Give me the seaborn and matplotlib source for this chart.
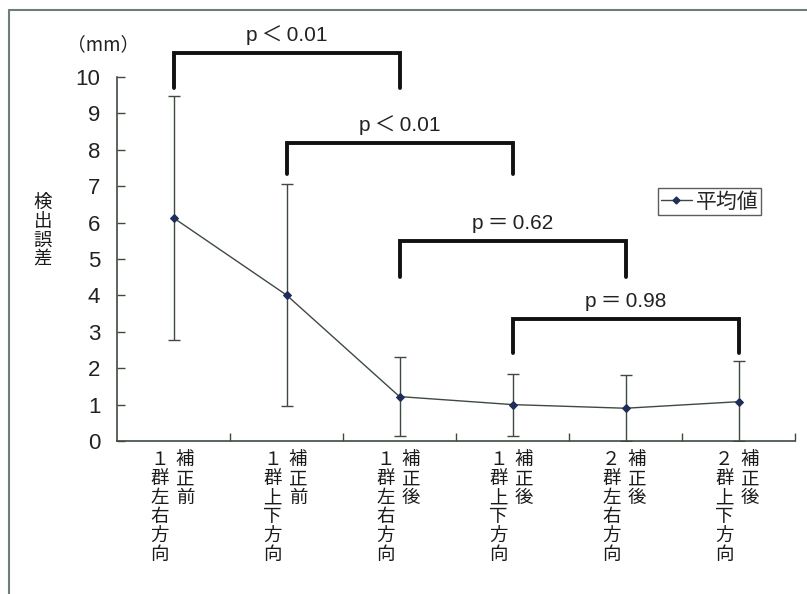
import matplotlib
matplotlib.use("Agg")
import matplotlib.pyplot as plt
import matplotlib.transforms as mtransforms
from matplotlib.lines import Line2D
import seaborn as sns
import pandas as pd
import numpy as np

# ---- data ----
groups = ["１群左右方向", "１群上下方向", "１群左右方向", "１群上下方向", "２群左右方向", "２群上下方向"]
phases = ["補正前", "補正前", "補正後", "補正後", "補正後", "補正後"]
means = [6.13, 4.01, 1.22, 1.0, 0.9, 1.08]
sds = [3.35, 3.05, 1.08, 0.85, 0.9, 1.12]
yticks = [0, 1, 2, 3, 4, 5, 6, 7, 8, 9, 10]
pairs = [(0, 2), (1, 3), (2, 4), (3, 5)]
p_labels = ["p\u2009＜\u20090.01", "p\u2009＜\u20090.01", "p\u2009＝\u20090.62", "p\u2009＝\u20090.98"]
bracket_tops = [10.66, 8.19, 5.49, 3.35]
bracket_feet = [9.7, 7.33, 4.5, 2.43]
legend_label = "平均値"

sns.set_theme(style="white")
plt.rcParams["font.family"] = ["Noto Sans CJK JP", "DejaVu Sans"]
LAT = ["Liberation Sans", "Noto Sans CJK JP", "DejaVu Sans"]

fig = plt.figure(figsize=(8.07, 5.94), dpi=100)
ax = fig.add_axes([117/807, 1-441/594, (795-117)/807, (441-77)/594])

df = pd.DataFrame({"x": np.arange(len(means)), "mean": means, "sd": sds})
line_col = "#3e4a40"
sns.lineplot(data=df, x="x", y="mean", ax=ax, color=line_col, lw=1.0,
             marker="D", markersize=4.5, markerfacecolor="#1e2d5a",
             markeredgecolor="#1e2d5a", legend=False, zorder=3)
lower = np.clip(df["mean"] - df["sd"], 0, None)
upper = df["mean"] + df["sd"]
ax.errorbar(df["x"], df["mean"], yerr=[df["mean"] - lower, upper - df["mean"]],
            fmt="none", ecolor=line_col, elinewidth=1.0, capsize=4, capthick=1.0, zorder=2)

ax.set_xlim(-0.5, 5.5)
ax.set_ylim(0, 10)
ax.set_yticks(yticks)
ax.set_yticklabels([str(v) for v in yticks], fontsize=16, color="#222222",
                   fontfamily=LAT)
ax.set_xticks(np.arange(0.5, 6, 1.0))
ax.set_xticklabels([])
ax.tick_params(axis="y", direction="in", length=6, width=1, color=line_col, pad=12, left=True)
ax.tick_params(axis="x", direction="in", length=6, width=1, color=line_col, bottom=True)
ax.set_xlabel("")
ax.set_ylabel("")
for s in ["top", "right"]:
    ax.spines[s].set_visible(False)
for s in ["left", "bottom"]:
    ax.spines[s].set_color(line_col)
    ax.spines[s].set_linewidth(1.2)

# category labels (vertical two-column)
trans = mtransforms.blended_transform_factory(ax.transData, ax.transAxes)
for i, (g, p) in enumerate(zip(groups, phases)):
    ax.text(i - 0.125, -0.028, "\n".join(g), transform=trans, ha="center", va="top",
            fontsize=13.3, linespacing=1.07, color="#1a1a1a")
    ax.text(i + 0.1, -0.028, "\n".join(p), transform=trans, ha="center", va="top",
            fontsize=13.3, linespacing=1.07, color="#1a1a1a")

# significance brackets
for (a, b), lab, top, foot in zip(pairs, p_labels, bracket_tops, bracket_feet):
    ax.plot([a, a, b, b], [foot, top, top, foot], color="#111111", lw=2.8,
            solid_joinstyle="miter", clip_on=False, zorder=4)
    ax.annotate(lab, xy=((a + b) / 2, top), xytext=(0, 6), textcoords="offset points",
                ha="center", va="bottom", fontsize=15, color="#222222",
                fontfamily=LAT, annotation_clip=False)

# unit + y label
fig.text(103/807, 1-45/594, "（mm）", ha="center", va="center", fontsize=13.5, color="#222222")
fig.text(43/807, 1-231/594, "\n".join("検出誤差"), ha="center", va="center",
         fontsize=13.3, linespacing=1.07, color="#1a1a1a")

# legend
handle = Line2D([], [], color=line_col, lw=1.0, marker="D", markersize=3.5,
                markerfacecolor="#1e2d5a", markeredgecolor="#1e2d5a")
leg = ax.legend([handle], [legend_label], loc="upper left",
                bbox_to_anchor=((658-117)/678, (441-188)/364), frameon=True,
                fancybox=False, fontsize=15, handlelength=1.5, handletextpad=0.2,
                borderpad=0.12, borderaxespad=0)
leg.get_frame().set_edgecolor("#333333")
leg.get_frame().set_linewidth(1.0)

# outer frame (top & left)
fig.add_artist(Line2D([9/807, 9/807], [0, 1-10/594], color="#6f7f78", lw=1.5,
                      transform=fig.transFigure))
fig.add_artist(Line2D([9/807, 1], [1-10/594, 1-10/594], color="#6f7f78", lw=1.5,
                      transform=fig.transFigure))

fig.savefig("out.png", dpi=100)
